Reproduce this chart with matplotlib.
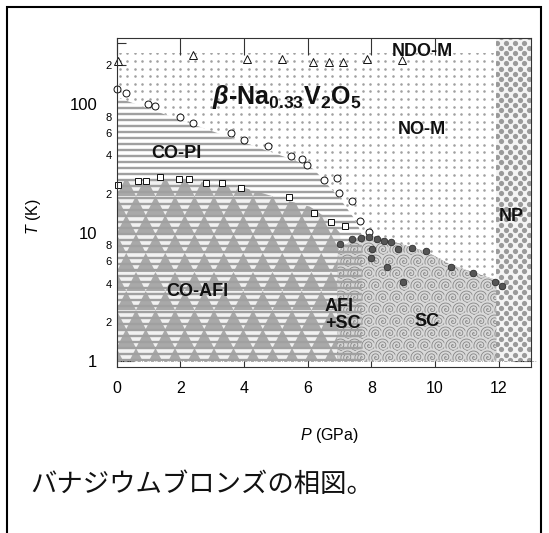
import numpy as np
import matplotlib
matplotlib.use('Agg')
import matplotlib.pyplot as plt
from matplotlib.patches import Polygon, Circle, Rectangle
from matplotlib.collections import LineCollection, PolyCollection
from matplotlib.lines import Line2D
from matplotlib.transforms import IdentityTransform
from matplotlib.ticker import FixedLocator, FixedFormatter

plt.rcParams['font.family'] = ['Liberation Sans', 'DejaVu Sans']
plt.rcParams['mathtext.fontset'] = 'custom'
plt.rcParams['mathtext.rm'] = 'Liberation Sans'
plt.rcParams['mathtext.it'] = 'Liberation Sans:italic'
plt.rcParams['mathtext.bf'] = 'Liberation Sans:bold'
plt.rcParams['mathtext.bfit'] = 'Liberation Sans:italic:bold'

# ---------------- data ----------------
# open circles (upper transition)
circ_P = [0.0, 0.29, 1.0, 1.21, 2.0, 2.41, 3.59, 3.99, 4.74, 5.49, 5.82, 5.98,
          6.50, 6.92, 6.98, 7.40, 7.65, 7.92]
circ_T = [132, 122, 100, 96.5, 80, 71, 59.5, 52.7, 47, 39.4, 37.1, 33.5,
          25.6, 26.7, 20.4, 17.5, 12.3, 10.1]
# open squares (CO-AFI transition)
sq_P = [0.05, 0.66, 0.92, 1.35, 1.95, 2.29, 2.81, 3.32, 3.92, 5.40, 6.19, 6.73, 7.17]
sq_T = [23.3, 25.2, 25.2, 26.9, 26.2, 25.9, 24.2, 24.2, 22.2, 19.0, 14.3, 12.0, 11.2]
# filled circles (superconducting Tc)
sc_pts_P = [7.01, 7.40, 7.66, 7.92, 8.17, 8.40, 8.63, 8.01, 8.85, 9.29, 9.70,
            8.00, 8.50, 9.00, 10.50, 11.18, 11.87, 12.09]
sc_pts_T = [8.14, 8.86, 9.06, 9.18, 8.95, 8.59, 8.48, 7.40, 7.40, 7.62, 7.21,
            6.30, 5.42, 4.10, 5.42, 4.84, 4.12, 3.83]
# open triangles (high-T transition)
tri_P = [0.05, 2.40, 4.09, 5.18, 6.17, 6.67, 7.11, 7.86, 8.95]
tri_T = [217, 240, 224, 224, 211, 211, 211, 224, 220]

# phase region boundaries
copi_P = [0.0, 6.0, 6.22, 7.0, 7.42, 7.6, 7.7, 7.7]
copi_T = [113, 33.5, 30.6, 18.5, 13.3, 11.0, 9.5, 1.0]
coafi_P = [0.0, 1.5, 2.5, 3.9, 5.4, 6.07, 6.6, 7.0, 7.05, 6.95, 6.92]
coafi_T = [25.5, 26.0, 25.0, 22.7, 17.6, 15.9, 13.0, 10.0, 8.5, 7.0, 1.0]
scr_P = [6.92, 6.95, 7.1, 7.27, 7.63, 8.0, 8.67, 9.72, 10.5, 11.92, 11.92]
scr_T = [1.0, 7.0, 7.8, 8.3, 9.3, 9.5, 8.5, 7.1, 5.6, 4.27, 1.0]
nom_top_T = 250
np_left_P = 11.92

x_ticks = [0, 2, 4, 6, 8, 10, 12]
y_major = [1, 10, 100]
y_major_lbl = ['1', '10', '100']
y_minor = [2, 3, 4, 5, 6, 7, 8, 9, 20, 30, 40, 50, 60, 70, 80, 90, 200, 300]
y_minor_lbl = ['2', '', '4', '', '6', '', '8', '',
               '2', '', '4', '', '6', '', '8', '', '2', '']

# ---------------- figure ----------------
W, H = 549, 533
fig = plt.figure(figsize=(W / 100, H / 100), dpi=100)
L, R, T, B = 116.5, 530.7, 38.3, 367.0
ax = fig.add_axes([L / W, 1 - B / H, (R - L) / W, (B - T) / H])
ax.set_yscale('log')
ax.set_xlim(0, 13)
ax.set_ylim(0.898, 325)
ax.set_autoscale_on(False)

x0, x1, y0, y1 = L, R, H - B, H - T  # display px
ID = IdentityTransform()


def poly(pts):
    return Polygon(pts, closed=True, transform=ax.transData)

# NO-M dots
nom = poly([(0, 1), (np_left_P, 1), (np_left_P, nom_top_T), (0, nom_top_T)])
gx = np.arange(x0 + 3, x1, 7.6)
gy = np.arange(y0 + 2, y1, 7.6)
GX, GY = np.meshgrid(gx, gy)
d = ax.scatter(GX.ravel(), GY.ravel(), s=3.4, c='#a0a0a0', linewidths=0,
               transform=ID, zorder=1)
d.set_clip_path(nom)

# stripes region background
stripe_pts = [(0, 1)] + list(zip(copi_P, copi_T))
ax.add_patch(Polygon(stripe_pts, closed=True, facecolor='white',
                     edgecolor='none', zorder=2))
stripe_clip = poly(stripe_pts)

# CO-AFI triangles
coafi_pts = [(0, 1)] + list(zip(coafi_P, coafi_T))
ax.add_patch(Polygon(coafi_pts, closed=True, facecolor='#f2f2f2',
                     edgecolor='none', zorder=2.5))
coafi_clip = poly(coafi_pts)
tw, th = 19.5, 19.0
tris = []
k = 0
yb = y0
while yb < y1:
    off = (k % 2) * tw / 2
    cx = x0 - tw + off
    while cx < x1 + tw:
        tris.append([(cx - tw / 2, yb), (cx + tw / 2, yb), (cx, yb + th)])
        cx += tw
    yb += th
    k += 1
tc = PolyCollection(tris, facecolors='#a9a9a9', edgecolors='none',
                    transform=ID, zorder=3)
ax.add_collection(tc, autolim=False)
tc.set_clip_path(coafi_clip)

# SC spirals
sc_pts = list(zip(scr_P, scr_T))
ax.add_patch(Polygon(sc_pts, closed=True, facecolor='#d6d6d6',
                     edgecolor='none', zorder=2.5))
sc_clip = poly(sc_pts)
sc_disp = ax.transData.transform(np.array(sc_pts))
sx0, sx1 = sc_disp[:, 0].min() - 10, sc_disp[:, 0].max() + 10
sy0, sy1 = sc_disp[:, 1].min() - 10, sc_disp[:, 1].max() + 10
Rsp = 8.5
th_s = np.linspace(0, 6 * np.pi, 160)
r_s = Rsp * th_s / th_s[-1]
row = 0
cy = sy1
while cy > sy0:
    cxs = sx0 + (row % 2) * 7.0
    while cxs < sx1:
        c = Circle((cxs, cy), Rsp + 0.5, transform=ID, facecolor='#d9d9d9',
                   edgecolor='none', zorder=3)
        ax.add_artist(c)
        c.set_clip_path(sc_clip)
        ln = Line2D(cxs + r_s * np.cos(th_s), cy + r_s * np.sin(th_s),
                    transform=ID, color='#858585', lw=0.6, zorder=3)
        ax.add_artist(ln)
        ln.set_clip_path(sc_clip)
        cxs += 14.0
    cy -= 12.0
    row += 1

# horizontal stripes (CO-PI, CO-AFI, AFI+SC)
segs = []
yy = y0 + 1.5
while yy < y1:
    segs.append([(x0, yy), (x1, yy)])
    yy += 6.0
lc = LineCollection(segs, colors='#a0a0a0', linewidths=1.7, transform=ID,
                    zorder=3.5)
ax.add_collection(lc, autolim=False)
lc.set_clip_path(stripe_clip)

# NP big dots
np_pts = [(np_left_P, 1), (13, 1), (13, 325), (np_left_P, 325)]
ax.add_patch(Polygon(np_pts, closed=True, facecolor='#f4f4f4',
                     edgecolor='none', zorder=2))
np_clip = poly(np_pts)
bx, by = [], []
rr = 0
yy = y0 + 2
while yy < y1 + 5:
    xx = x0 + 380 + (rr % 2) * 4.65
    while xx < x1 + 5:
        bx.append(xx)
        by.append(yy)
        xx += 9.3
    yy += 5.2
    rr += 1
nd = ax.scatter(bx, by, s=14, c='#9a9a9a', linewidths=0, transform=ID,
                zorder=3)
nd.set_clip_path(np_clip)

# T = 1 dash-dot line
ax.plot([0, 13.2], [1, 1], color='#9a9a9a', lw=0.6, ls=(0, (4, 1.5, 1, 1.5)),
        clip_on=False, zorder=4)

# markers
ax.plot(tri_P, tri_T, ls='none', marker='^', ms=5.4, mfc='white', mec='#111',
        mew=0.7, zorder=6, clip_on=False)
ax.plot(circ_P, circ_T, ls='none', marker='o', ms=5.0, mfc='white', mec='#111',
        mew=0.7, zorder=6, clip_on=False)
ax.plot(sq_P, sq_T, ls='none', marker='s', ms=5.0, mfc='white', mec='#111',
        mew=0.7, zorder=6, clip_on=False)
ax.plot(sc_pts_P, sc_pts_T, ls='none', marker='o', ms=4.8, mfc='#555555',
        mec='#222222', mew=0.5, zorder=6)

# labels
lab = dict(fontweight='bold', color='#111111', zorder=7, fontsize=13)
ax.text(9.61, 255, 'NDO-M', ha='center', va='center', **lab)
ax.text(9.57, 63.6, 'NO-M', ha='center', va='center', **lab)
ax.text(1.875, 41.3, 'CO-PI', ha='center', va='center', **lab)
ax.text(2.53, 3.46, 'CO-AFI', ha='center', va='center', **lab)
ax.text(6.54, 2.30, 'AFI\n+SC', ha='left', va='center', linespacing=1.0, **lab)
ax.text(9.74, 2.02, 'SC', ha='center', va='center', **lab)
ax.text(12.38, 13.3, 'NP', ha='center', va='center', **lab)
ax.text(2.99, 100, r'$\mathbfit{\beta}$-Na$_\mathbf{0.33}$V$_\mathbf{2}$O$_\mathbf{5}$',
        ha='left', va='baseline', fontsize=18, fontweight='bold', color='#111',
        zorder=7)

# axes styling
for s in ax.spines.values():
    s.set_color('#333333')
    s.set_linewidth(0.8)
    s.set_zorder(8)
ax.set_xticks(x_ticks)
ax.set_xticklabels([str(v) for v in x_ticks])
ax.yaxis.set_major_locator(FixedLocator(y_major))
ax.yaxis.set_major_formatter(FixedFormatter(y_major_lbl))
ax.yaxis.set_minor_locator(FixedLocator(y_minor))
ax.yaxis.set_minor_formatter(FixedFormatter(y_minor_lbl))
ax.tick_params(which='both', direction='in', top=True, right=True,
               color='#333333', width=0.8)
ax.tick_params(axis='x', which='major', length=12, pad=10, labelsize=11.5)
ax.tick_params(axis='y', which='major', length=12, pad=14, labelsize=12)
ax.tick_params(axis='y', which='minor', length=6.5, pad=3.6, labelsize=8)
ax.set_xlabel(r'$\mathit{P}$ (GPa)', fontsize=11.5)
ax.set_ylabel(r'$\mathit{T}$ (K)', fontsize=11.5)
ax.xaxis.set_label_coords((329.5 - L) / (R - L), -(426 - B) / (B - T))
ax.yaxis.set_label_coords(-(L - 43) / (R - L), (B - 217) / (B - T))

# caption and frame
fig.text(30 / W, 1 - 484 / H, 'バナジウムブロンズの相図。', fontsize=19,
         family=['Noto Sans CJK JP', 'DejaVu Sans'], ha='left', va='center',
         color='#111111')
fig.add_artist(Rectangle((7 / W, -0.1), (541 - 7) / W, (H - 7) / H + 0.1,
                         transform=fig.transFigure, fill=False,
                         edgecolor='black', linewidth=1.5))

fig.savefig('out.png', dpi=100)
